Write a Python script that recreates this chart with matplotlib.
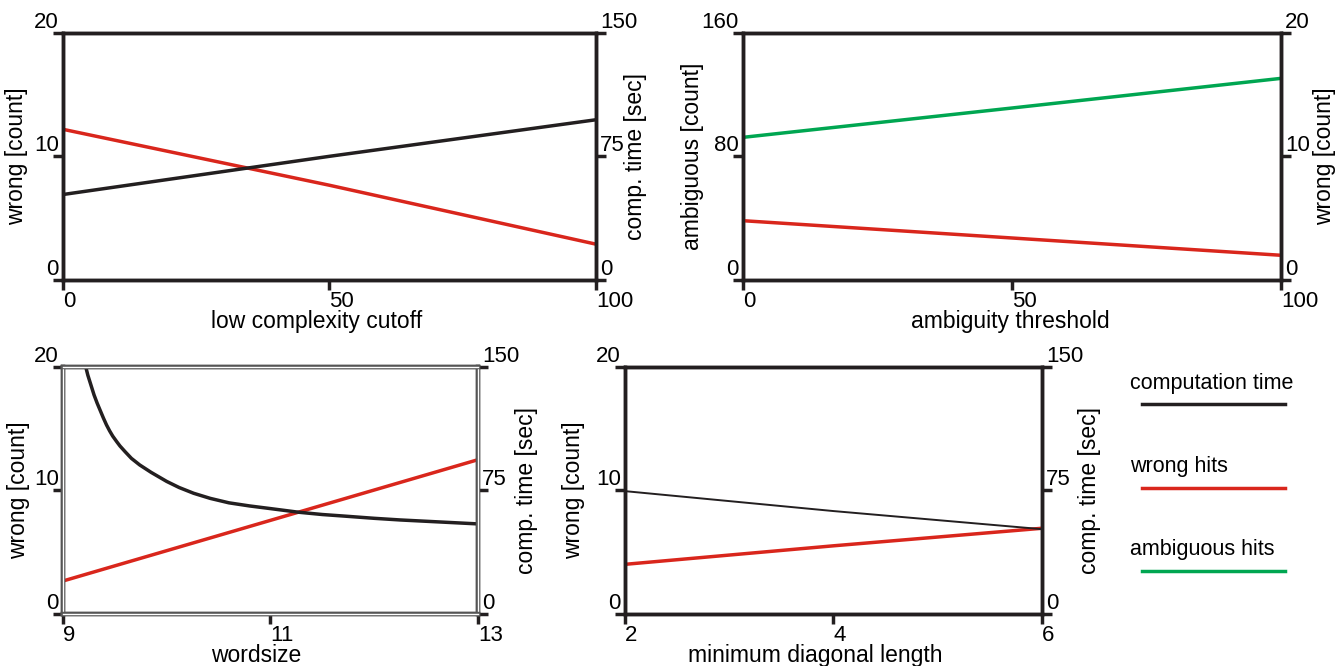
import matplotlib
matplotlib.use('Agg')
import matplotlib.pyplot as plt
import matplotlib.patheffects as pe
from matplotlib.lines import Line2D

plt.rcParams['font.family'] = ['Liberation Sans', 'DejaVu Sans']
plt.rcParams['font.size'] = 16

BLACK = '#231f20'
RED = '#d9261c'
GREEN = '#00a651'

# panel 1: low complexity cutoff
lc_x = [0, 50, 100]
lc_wrong = [12.2, 7.67, 2.9]
lc_time = [51.9, 75.1, 97.3]

# panel 2: ambiguity threshold
at_x = [0, 50, 100]
at_ambig = [92.4, 111.4, 130.6]
at_wrong = [4.8, 3.4, 2.0]

# panel 3: wordsize
ws_x = [9, 13]
ws_wrong = [2.67, 12.49]
ws_tx = [9.22, 9.24, 9.26, 9.28, 9.3, 9.33, 9.36, 9.39, 9.42, 9.45, 9.48, 9.52,
         9.55, 9.6, 9.66, 9.74, 9.85, 10.0, 10.12, 10.26, 10.42, 10.6, 10.8,
         11.0, 11.27, 11.5, 11.7, 12.0, 12.25, 12.5, 12.75, 13.0]
ws_time = [150, 145, 141, 137, 133, 128, 123.5, 119, 114.8, 111.2, 108, 104.5,
           102, 98.5, 94.5, 90.5, 86, 80.5, 76.8, 73.3, 70.2, 67.5, 65.6,
           64, 61.8, 60.4, 59.5, 58.1, 57.1, 56.3, 55.5, 54.7]

# panel 4: minimum diagonal length
md_x = [2, 4, 6]
md_wrong = [4.02, 5.52, 6.94]
md_time = [74.6, 62.5, 51.5]

legend_labels = ['computation time', 'wrong hits', 'ambiguous hits']
legend_colors = [BLACK, RED, GREEN]


def style(ax, ax2, xt, lt, rt, xlabel, llabel, rlabel, lcoord, rcoord, xcoord):
    ax.set_xlim(xt[0], xt[-1])
    ax.set_ylim(lt[0], lt[-1])
    ax2.set_ylim(rt[0], rt[-1])
    ax.set_xticks(xt)
    ax.set_yticks(lt)
    ax2.set_yticks(rt)
    for a in (ax, ax2):
        for s in a.spines.values():
            s.set_linewidth(2.5)
            s.set_color(BLACK)
        a.tick_params(length=7, width=2.5, color=BLACK, labelsize=16)
    ax.tick_params(axis='y', pad=-4)
    ax2.tick_params(axis='y', pad=-4)
    ax.tick_params(axis='x', pad=1)
    plt.setp(ax.get_yticklabels(), va='bottom')
    plt.setp(ax2.get_yticklabels(), va='bottom')
    plt.setp(ax.get_xticklabels(), ha='left')
    ax.set_xlabel(xlabel, fontsize=16.5)
    ax.set_ylabel(llabel, fontsize=16.5)
    ax2.set_ylabel(rlabel, fontsize=16.5)
    ax.yaxis.set_label_coords(lcoord, 0.5)
    ax2.yaxis.set_label_coords(rcoord, 0.5)
    ax.xaxis.set_label_coords(xcoord, -0.12)


fig = plt.figure(figsize=(13.42, 6.66), dpi=100)

ax1 = fig.add_axes([0.0469, 0.5796, 0.3972, 0.3709])
ax1b = ax1.twinx()
ax1.plot(lc_x, lc_wrong, color=RED, lw=2.5)
ax1b.plot(lc_x, lc_time, color=BLACK, lw=2.5)
style(ax1, ax1b, [0, 50, 100], [0, 10, 20], [0, 75, 150],
      'low complexity cutoff', 'wrong [count]', 'comp. time [sec]',
      -0.066, 1.0525, 0.475)

ax2 = fig.add_axes([0.5537, 0.5796, 0.4009, 0.3709])
ax2b = ax2.twinx()
ax2.plot(at_x, at_ambig, color=GREEN, lw=2.5)
ax2b.plot(at_x, at_wrong, color=RED, lw=2.5)
style(ax2, ax2b, [0, 50, 100], [0, 80, 160], [0, 10, 20],
      'ambiguity threshold', 'ambiguous [count]', 'wrong [count]',
      -0.072, 1.0595, 0.496)

ax3 = fig.add_axes([0.0469, 0.0781, 0.3092, 0.3709])
ax3b = ax3.twinx()
ax3.plot(ws_x, ws_wrong, color=RED, lw=2.5)
ax3b.plot(ws_tx, ws_time, color=BLACK, lw=2.5)
style(ax3, ax3b, [9, 11, 13], [0, 10, 20], [0, 75, 150],
      'wordsize', 'wrong [count]', 'comp. time [sec]',
      -0.0795, 1.089, 0.465)
# hollow double-line frame on this panel
for a in (ax3, ax3b):
    for s in a.spines.values():
        s.set_color('white')
        s.set_linewidth(1.0)
        s.set_path_effects([pe.Stroke(linewidth=3.2, foreground='#555555'), pe.Normal()])

ax4 = fig.add_axes([0.4657, 0.0781, 0.3107, 0.3709])
ax4b = ax4.twinx()
ax4.plot(md_x, md_wrong, color=RED, lw=2.5)
ax4b.plot(md_x, md_time, color=BLACK, lw=1.4)
style(ax4, ax4b, [2, 4, 6], [0, 10, 20], [0, 75, 150],
      'minimum diagonal length', 'wrong [count]', 'comp. time [sec]',
      -0.096, 1.086, 0.456)

# legend drawn by hand
for i, (lab, col) in enumerate(zip(legend_labels, legend_colors)):
    ty = 1 - (383 + 83.5 * i) / 666
    ly = 1 - (404 + 83.5 * i) / 666
    fig.text(1130 / 1342, ty, lab, fontsize=15.5, va='center', ha='left')
    fig.add_artist(Line2D([1142 / 1342, 1285 / 1342], [ly, ly], color=col, lw=2.5,
                          transform=fig.transFigure))

fig.savefig('out.png', dpi=100)
